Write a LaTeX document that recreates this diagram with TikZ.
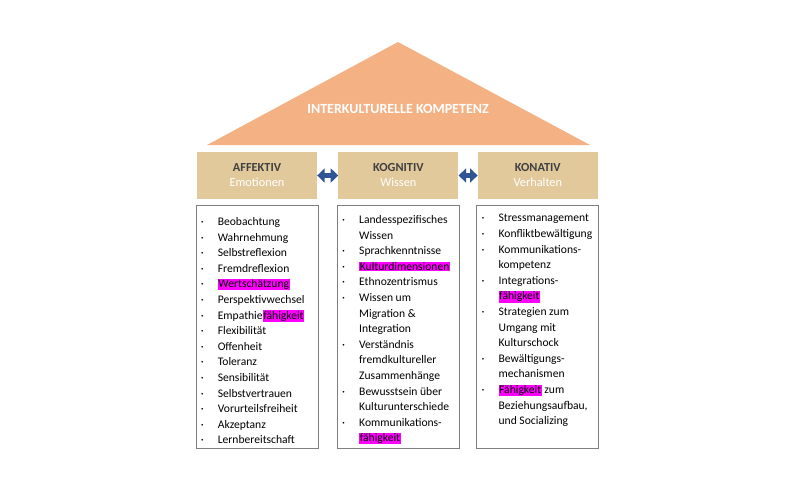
\documentclass[tikz,border=0pt]{standalone}
\usepackage{fontspec}
\setmainfont{Carlito}
\usepackage{tikz}
\usetikzlibrary{positioning,arrows.meta}
\definecolor{roofc}{HTML}{F4B183}
\definecolor{headc}{HTML}{E2C99C}
\definecolor{arrowc}{HTML}{2F5597}
\definecolor{framec}{HTML}{7F7F7F}
\definecolor{hlc}{HTML}{FF00FF}
\definecolor{titlec}{HTML}{404040}
\tikzstyle{head} = [fill=headc,minimum width=120pt,minimum height=47pt,inner sep=0pt,align=center,font=\fontsize{12.3}{15}\selectfont]
\tikzstyle{listbox} = [draw=framec,line width=0.8pt,minimum width=122pt,minimum height=243pt,inner sep=0pt]
\tikzstyle{items} = [anchor=north west,inner sep=0pt,align=left,font=\fontsize{11.6}{15.6}\selectfont]
\tikzstyle{link} = [draw=arrowc,line width=5.5pt,{Triangle[width=14pt,length=7.5pt]}-{Triangle[width=14pt,length=7.5pt]}]
\newcommand{\bul}{\makebox[17pt][l]{\textperiodcentered}}
\newcommand{\ind}{\hspace*{17pt}}
\newcommand{\hlt}[1]{{\setlength{\fboxsep}{0.6pt}\colorbox{hlc}{#1}}}

\begin{document}
\begin{tikzpicture}[x=1pt,y=-1pt]
\useasboundingbox (0,0) rectangle (800,500);
% Dach
\fill[roofc] (398,42) -- (590,145) -- (207,145) -- cycle;
\node[text=white,font=\bfseries\fontsize{14}{16}\selectfont] (roof) at (398,109) {INTERKULTURELLE KOMPETENZ};
% Dimensionen
\node[head] (head1) at (257,175.5) {\textbf{\textcolor{titlec}{AFFEKTIV}}\\\textcolor{white}{Emotionen}};
\node[head] (head2) [right = 21pt of head1] {\textbf{\textcolor{titlec}{KOGNITIV}}\\\textcolor{white}{Wissen}};
\node[head] (head3) [right = 19pt of head2] {\textbf{\textcolor{titlec}{KONATIV}}\\\textcolor{white}{Verhalten}};
\draw[link] (head1) -- (head2);
\draw[link] (head2) -- (head3);
% Listen
\node[listbox] (list1) [below = 6pt of head1] {};
\node[listbox] (list2) [below = 6pt of head2] {};
\node[listbox] (list3) [below = 6pt of head3] {};
\node[items] (items1) at ([xshift=5pt,yshift=-12pt]list1.north west) {\bul Beobachtung\\ \bul Wahrnehmung\\ \bul Selbstreflexion\\ \bul Fremdreflexion\\ \bul \hlt{Wertschätzung}\\ \bul Perspektivwechsel\\ \bul Empathie\hlt{fähigkeit}\\ \bul Flexibilität\\ \bul Offenheit\\ \bul Toleranz\\ \bul Sensibilität\\ \bul Selbstvertrauen\\ \bul Vorurteilsfreiheit\\ \bul Akzeptanz\\ \bul Lernbereitschaft};
\node[items] (items2) at ([xshift=5pt,yshift=-10pt]list2.north west) {\bul Landesspezifisches\\ \ind Wissen\\ \bul Sprachkenntnisse\\ \bul \hlt{Kulturdimensionen}\\ \bul Ethnozentrismus\\ \bul Wissen um\\ \ind Migration \&\\ \ind Integration\\ \bul Verständnis\\ \ind fremdkultureller\\ \ind Zusammenhänge\\ \bul Bewusstsein über\\ \ind Kulturunterschiede\\ \bul Kommunikations-\\ \ind \hlt{fähigkeit}};
\node[items] (items3) at ([xshift=5pt,yshift=-9pt]list3.north west) {\bul Stressmanagement\\ \bul Konfliktbewältigung\\ \bul Kommunikations-\\ \ind kompetenz\\ \bul Integrations-\\ \ind \hlt{fähigkeit}\\ \bul Strategien zum\\ \ind Umgang mit\\ \ind Kulturschock\\ \bul Bewältigungs-\\ \ind mechanismen\\ \bul \hlt{Fähigkeit} zum\\ \ind Beziehungsaufbau,\\ \ind und Socializing};
\end{tikzpicture}
\end{document}
